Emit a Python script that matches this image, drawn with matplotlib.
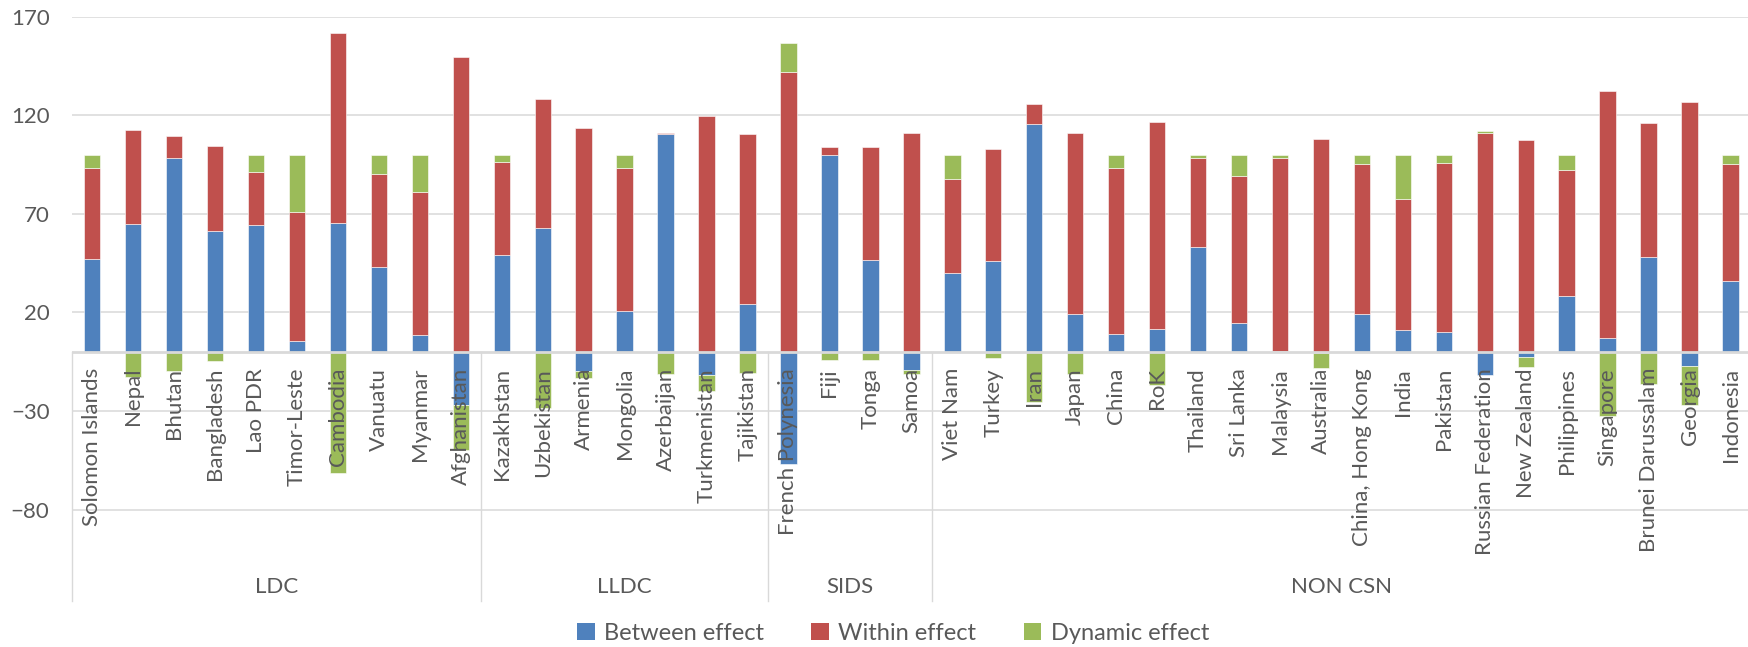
"""
Decomposition of growth: between, within and dynamic effects by country group
"""
import numpy as np
import matplotlib
matplotlib.use("Agg")
import matplotlib.pyplot as plt
from matplotlib.patches import Patch

countries = [
    "Solomon Islands", "Nepal", "Bhutan", "Bangladesh", "Lao PDR", "Timor-Leste",
    "Cambodia", "Vanuatu", "Myanmar", "Afghanistan",
    "Kazakhstan", "Uzbekistan", "Armenia", "Mongolia", "Azerbaijan", "Turkmenistan",
    "Tajikistan",
    "French Polynesia", "Fiji", "Tonga", "Samoa",
    "Viet Nam", "Turkey", "Iran", "Japan", "China", "RoK", "Thailand", "Sri Lanka",
    "Malaysia", "Australia", "China, Hong Kong", "India", "Pakistan",
    "Russian Federation", "New Zealand", "Philippines", "Singapore",
    "Brunei Darussalam", "Georgia", "Indonesia",
]
groups = ["LDC", "LLDC", "SIDS", "NON CSN"]
group_sizes = [10, 7, 4, 20]

between = [47, 64.7, 98.4, 61.2, 64.1, 5.7, 65.1, 42.8, 8.6, -27,
           49.2, 62.9, -9.7, 20.5, 110.7, -11.8, 24.5,
           -57, 99.7, 46.8, -9.3,
           40.1, 46.3, 115.4, 19.4, 8.8, 11.7, 53.1, 14.4, 0.5, -0.8,
           19.4, 11.3, 10.3, -11.8, -2.5, 28.2, 7.1, 48, -7.3, 36]
within = [46.1, 48, 11.3, 43.3, 27.2, 65.3, 96.5, 47.5, 72.5, 149.6,
          47.1, 65.4, 113.4, 72.6, 0.5, 119.8, 86.2,
          142, 4.3, 57.2, 111,
          47.5, 56.8, 10.2, 91.8, 84.3, 104.9, 45.3, 74.8, 97.9, 108.2,
          75.9, 66.3, 85.7, 111.2, 107.5, 64.1, 125.4, 68.3, 126.9, 59.3]
dynamic = [6.9, -12.7, -9.7, -4.5, 8.7, 29, -61.6, 9.7, 18.9, -22.6,
           3.7, -28.3, -3.7, 6.9, -11.2, -8.0, -10.7,
           14.7, -4.0, -4.0, -1.7,
           12.4, -3.1, -25.6, -11.2, 6.9, -16.6, 1.6, 10.8, 1.6, -7.4,
           4.7, 22.4, 4.0, 0.7, -5.0, 7.7, -32.5, -16.3, -19.6, 4.7]

series = [
    ("Between effect", between, "#4F81BD"),
    ("Within effect", within, "#C0504D"),
    ("Dynamic effect", dynamic, "#9BBB59"),
]

FONT = "Lato"
TEXT = "#595959"
GRID = "#D9D9D9"
plt.rcParams["font.family"] = [FONT, "DejaVu Sans"]

fig = plt.figure(figsize=(17.49, 6.47), dpi=100)
W, H = 1749, 647
y_top, y_bot = 170, -126.4
ax = fig.add_axes([71.7 / W, 1 - 601 / H, (1751 - 71.7) / W, (601 - 16.7) / H])

x = np.arange(len(countries))
pos_cum = np.zeros(len(countries))
neg_cum = np.zeros(len(countries))

# Excel-style stacking: positives go up from zero, negatives go down
for name, vals, color in series:
    v = np.array(vals, dtype=float)
    bottom = np.where(v >= 0, pos_cum, neg_cum)
    ax.bar(x, v, bottom=bottom, width=0.4, color=color,
           edgecolor="white", linewidth=0.4, zorder=3)
    pos_cum = pos_cum + np.where(v >= 0, v, 0)
    neg_cum = neg_cum + np.where(v < 0, v, 0)

ax.set_xlim(-0.5, len(countries) - 0.5)
ax.set_ylim(y_bot, y_top)
ax.set_yticks([-80, -30, 20, 70, 120, 170])
ax.tick_params(axis="y", length=0, pad=16, labelsize=16, labelcolor=TEXT)
ax.set_xticks([])
for s in ax.spines.values():
    s.set_visible(False)
ax.yaxis.grid(True, color=GRID, linewidth=1.1, zorder=0)
ax.set_axisbelow(True)

# category axis at zero
ax.axhline(0, color=GRID, linewidth=2.0, zorder=4)

# country labels, written upward just below the zero line
for i, name in enumerate(countries):
    ax.text(i, -8.2, name, rotation=90, ha="center", va="top",
            fontsize=16, color=TEXT, zorder=6)

# group separators and labels
edges = np.concatenate([[0], np.cumsum(group_sizes)]) - 0.5
for e in edges:
    ax.plot([e, e], [0, y_bot], color=GRID, linewidth=1.0, zorder=4,
            clip_on=False)
for g, a, b in zip(groups, edges[:-1], edges[1:]):
    ax.text((a + b) / 2, -119.2, g, ha="center", va="center",
            fontsize=16, color=TEXT)

handles = [Patch(facecolor=c, edgecolor="none", label=n) for n, _, c in series]
fig.legend(handles=handles, loc="center", bbox_to_anchor=(893 / W, 1 - 633 / H),
           ncol=3, frameon=False, fontsize=17, handlelength=0.75,
           handleheight=0.75, handletextpad=0.4, columnspacing=2.0,
           labelcolor=TEXT)

fig.savefig("out.png", dpi=100)
